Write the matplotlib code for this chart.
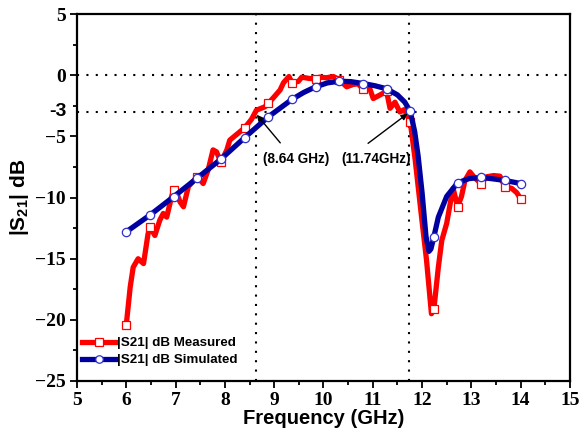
"""
|S21| of the band-pass filter: measured vs simulated, with the -3 dB
band edges marked by dotted guide lines and arrows.
"""
import matplotlib
matplotlib.use("Agg")
import matplotlib.pyplot as plt
from matplotlib.ticker import MultipleLocator

# -- Palette ------------------------------------------------------------------
C_MEAS = "#FF0000"
C_SIM = "#0000A0"
C_SIM_EDGE = "#3030D0"
C_TEXT = "#000000"

SANS = "Liberation Sans"
SERIF = "Liberation Serif"

# -- Data --------------------------------------------------------------------
meas_freq = [6.00, 6.08, 6.14, 6.24, 6.35, 6.44, 6.48, 6.58, 6.68, 6.75, 6.82,
             6.92, 6.96, 7.02, 7.09, 7.16, 7.26, 7.44, 7.56, 7.66, 7.76, 7.83,
             7.92, 8.04, 8.10, 8.31, 8.40, 8.54, 8.64, 8.81, 8.88, 9.00, 9.12,
             9.19, 9.30, 9.36, 9.49, 9.56, 9.70, 9.84, 9.92, 10.06, 10.20,
             10.32, 10.47, 10.60, 10.70, 10.80, 10.94, 11.01, 11.15, 11.28,
             11.35, 11.45, 11.55, 11.64, 11.76, 11.86, 11.99, 12.09, 12.19,
             12.24, 12.33, 12.40, 12.50, 12.57, 12.63, 12.72, 12.80, 12.87,
             12.97, 13.07, 13.20, 13.31, 13.45, 13.58, 13.68, 13.82, 13.92,
             14.00]
meas_db = [-20.4, -17.3, -15.7, -15.0, -15.4, -13.0, -12.4, -13.1, -11.85,
           -11.3, -11.6, -9.9, -9.4, -9.6, -10.35, -10.75, -9.1, -8.3, -8.85,
           -7.75, -6.1, -6.26, -7.1, -6.1, -5.3, -4.6, -4.3, -3.6, -2.85,
           -2.58, -2.3, -1.76, -1.2, -0.6, -0.1, -0.6, -0.5, -0.15, -0.25,
           -0.3, -0.15, -0.2, -0.1, -0.35, -0.94, -0.75, -0.7, -1.1, -1.1,
           -1.9, -1.6, -1.3, -2.7, -2.2, -3.0, -2.8, -3.8, -6.9, -11.6,
           -15.1, -19.5, -19.1, -15.7, -13.5, -12.1, -10.5, -9.25, -10.75,
           -9.9, -8.6, -7.9, -8.4, -8.85, -8.3, -8.2, -8.25, -9.1, -9.25,
           -9.6, -10.1]
meas_marks = [0, 6, 12, 17, 22, 26, 30, 35, 39, 43, 47, 51, 56, 61, 67, 72,
              76, 79]

sim_freq = [6.00, 6.48, 6.96, 7.44, 7.92, 8.40, 8.88, 9.36, 9.60, 9.84, 10.08,
            10.32, 10.56, 10.80, 11.04, 11.28, 11.50, 11.65, 11.76, 11.85,
            11.92, 12.00, 12.08, 12.14, 12.18, 12.24, 12.33, 12.50, 12.72,
            12.95, 13.20, 13.44, 13.68, 14.00]
sim_db = [-12.8, -11.43, -9.93, -8.4, -6.85, -5.1, -3.4, -1.97, -1.4, -0.94,
          -0.62, -0.48, -0.52, -0.67, -0.85, -1.1, -1.6, -2.2, -2.95, -4.6,
          -6.6, -9.6, -13.2, -14.4, -14.2, -13.2, -11.6, -9.9, -8.8, -8.45,
          -8.35, -8.47, -8.6, -8.85]
sim_marks = [0, 1, 2, 3, 4, 5, 6, 7, 9, 11, 13, 15, 18, 25, 28, 30, 32, 33]

band_edges = [8.64, 11.74]
ref_levels = [0, -3]
edge_labels = ["(8.64 GHz)", "(11.74GHz)"]

plt.rcParams["mathtext.fontset"] = "custom"
plt.rcParams["mathtext.rm"] = SANS + ":bold"
plt.rcParams["mathtext.it"] = SANS + ":bold"
plt.rcParams["mathtext.bf"] = SANS + ":bold"

fig = plt.figure(figsize=(5.81, 4.43), dpi=100)
ax = fig.add_axes([0.1325, 0.140, 0.8485, 0.828])

# -- Dotted guide lines -------------------------------------------------------
for f in band_edges:
    ax.axvline(f, color=C_TEXT, linewidth=1.5, linestyle=(0, (1, 3.5)), zorder=1)
for lvl in ref_levels:
    ax.axhline(lvl, color=C_TEXT, linewidth=1.5, linestyle=(0, (1, 3.5)), zorder=1)

# -- Curves ---------------------------------------------------------------------
ax.plot(meas_freq, meas_db, color=C_MEAS, linewidth=3.8, zorder=3,
        marker="s", markevery=meas_marks, markersize=6,
        markerfacecolor="white", markeredgecolor=C_MEAS, markeredgewidth=0.9,
        label="|S21| dB Measured")
ax.plot(sim_freq, sim_db, color=C_SIM, linewidth=3.8, zorder=4,
        marker="o", markevery=sim_marks, markersize=6,
        markerfacecolor="white", markeredgecolor=C_SIM_EDGE, markeredgewidth=0.9,
        label="|S21| dB Simulated")

# -- Band-edge annotations -----------------------------------------------------
arrow = dict(arrowstyle="-|>", color=C_TEXT, lw=1.0, mutation_scale=9)
ax.annotate("", xy=(8.61, -3.05), xytext=(9.16, -5.7), arrowprops=arrow, zorder=5)
ax.annotate("", xy=(11.75, -3.0), xytext=(10.86, -5.7), arrowprops=arrow, zorder=5)
ax.text(8.77, -6.85, edge_labels[0], family=SANS, fontweight="bold",
        fontsize=9.8, ha="left", va="center", zorder=6)
ax.text(10.37, -6.85, edge_labels[1], family=SANS, fontweight="bold",
        fontsize=9.8, ha="left", va="center", zorder=6)
ax.text(-0.02, -3, "-3", transform=ax.get_yaxis_transform(), family=SANS,
        fontweight="bold", fontsize=14, ha="right", va="center")

# -- Axes ---------------------------------------------------------------------
ax.set_xlim(5, 15)
ax.set_ylim(-25, 5)
ax.xaxis.set_major_locator(MultipleLocator(1))
ax.xaxis.set_minor_locator(MultipleLocator(0.5))
ax.yaxis.set_major_locator(MultipleLocator(5))
ax.yaxis.set_minor_locator(MultipleLocator(2.5))
ax.tick_params(which="both", direction="out", top=False, right=False,
               width=1.3, colors=C_TEXT)
ax.tick_params(which="major", length=5, pad=3)
ax.tick_params(which="minor", length=3)
for lbl in ax.get_xticklabels() + ax.get_yticklabels():
    lbl.set_fontfamily(SERIF)
    lbl.set_fontweight("bold")
    lbl.set_fontsize(14)
for spine in ax.spines.values():
    spine.set_linewidth(1.6)

ax.set_xlabel("Frequency (GHz)", family=SANS, fontweight="bold",
              fontsize=14.5, labelpad=0)
ax.set_ylabel(r"|S$_{21}$| dB", family=SANS, fontweight="bold",
              fontsize=15, labelpad=3)

ax.legend(loc="lower left", bbox_to_anchor=(0.0, 0.025), frameon=False,
          prop=dict(family=SANS, weight="bold", size=9.6),
          handlelength=2.5, handletextpad=0.1, labelspacing=0.35,
          borderaxespad=0, markerscale=0.9)

fig.savefig("out.png", dpi=100)
